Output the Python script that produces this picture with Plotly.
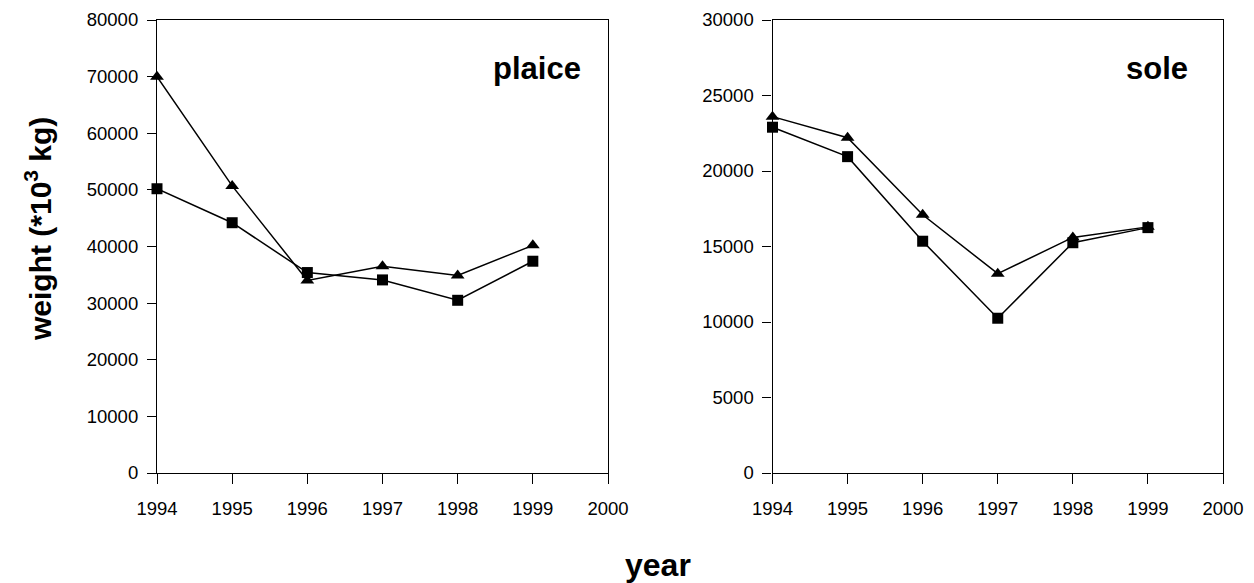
import plotly.graph_objects as go

years = [1994, 1995, 1996, 1997, 1998, 1999]
plaice_tri = [70000, 50700, 34000, 36500, 34900, 40200]
plaice_sq = [50200, 44200, 35400, 34100, 30500, 37400]
sole_tri = [23600, 22200, 17100, 13200, 15600, 16300]
sole_sq = [22900, 20950, 15350, 10250, 15250, 16250]
xticks = [1994, 1995, 1996, 1997, 1998, 1999, 2000]

W, H = 1254, 583
FONT = "Liberation Sans, Arial, Helvetica, sans-serif"
L, R, T, B = 157, 1223, 19.5, 473.5
PW = R - L

fig = go.Figure()

def add(x, y, sym, size, xa, ya):
    fig.add_trace(go.Scatter(
        x=x, y=y, mode="lines+markers", xaxis=xa, yaxis=ya,
        line=dict(color="black", width=1.5),
        marker=dict(symbol=sym, size=size, color="black"),
        showlegend=False, cliponaxis=False))

add(years, plaice_tri, "triangle-up", 12, "x", "y")
add(years, plaice_sq, "square", 11, "x", "y")
add(years, sole_tri, "triangle-up", 12, "x2", "y2")
add(years, sole_sq, "square", 11, "x2", "y2")

axis_common = dict(showgrid=False, zeroline=False, showline=True, linecolor="black",
                   linewidth=1.2, mirror=True, ticks="outside",
                   tickcolor="black", tickwidth=1.2, automargin=False,
                   tickformat="d",
                   tickfont=dict(family=FONT, size=18.5, color="black"))
xax = dict(ticklen=10, ticklabelstandoff=9, **axis_common)
yax = dict(ticklen=9, ticklabelstandoff=5, **axis_common)

fig.update_layout(
    width=W, height=H,
    margin=dict(l=L, r=W - R, t=T, b=H - B, pad=0, autoexpand=False),
    paper_bgcolor="white", plot_bgcolor="white",
    xaxis=dict(domain=[0, (608 - L) / PW], range=[1994, 2000], tickvals=xticks,
               anchor="y", **xax),
    yaxis=dict(domain=[0, 1], range=[0, 80000], dtick=10000, anchor="x", **yax),
    xaxis2=dict(domain=[(772.5 - L) / PW, 1], range=[1994, 2000], tickvals=xticks,
                anchor="y2", **xax),
    yaxis2=dict(domain=[0, 1], range=[0, 30000], dtick=5000, anchor="x2", **yax),
    annotations=[
        dict(text="<b>plaice</b>", xref="paper", yref="paper", x=(537 - L) / PW, y=1 - (68 - T) / (B - T),
             xanchor="center", yanchor="middle",
             showarrow=False, font=dict(family=FONT, size=31, color="black")),
        dict(text="<b>sole</b>", xref="paper", yref="paper", x=(1157 - L) / PW, y=1 - (68 - T) / (B - T),
             xanchor="center", yanchor="middle",
             showarrow=False, font=dict(family=FONT, size=31, color="black")),
        dict(text="<b>weight (*10<sup>3</sup> kg)</b>", xref="paper", yref="paper",
             x=(38 - L) / PW, y=1 - (229 - T) / (B - T), xanchor="center", yanchor="middle",
             textangle=-90, showarrow=False, font=dict(family=FONT, size=30, color="black")),
        dict(text="<b>year</b>", xref="paper", yref="paper", x=(658 - L) / PW, y=1 - (566 - T) / (B - T),
             xanchor="center", yanchor="middle",
             showarrow=False, font=dict(family=FONT, size=32, color="black")),
    ],
)

fig.write_html("out.html")
